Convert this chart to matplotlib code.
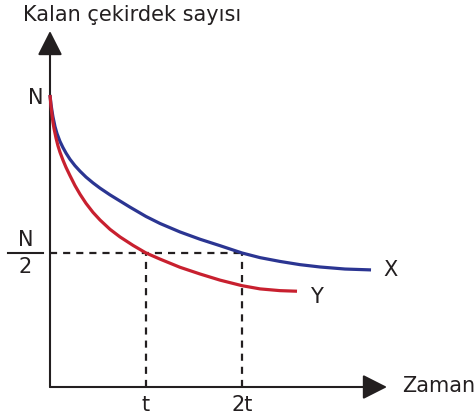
import matplotlib
matplotlib.use("Agg")
import matplotlib.pyplot as plt
from matplotlib.patches import FancyArrowPatch

plt.rcParams['font.family'] = ['DejaVu Sans']

# Data (x in units of t, y in percent of N at the start)
x_X = [0, 0.010, 0.021, 0.031, 0.042, 0.052, 0.073, 0.104, 0.135, 0.167, 0.208, 0.260, 0.313,
       0.375, 0.448, 0.521, 0.625, 0.729, 0.833, 1.0, 1.146, 1.354, 1.563, 1.771, 2.0, 2.188,
       2.396, 2.604, 2.813, 3.073, 3.344]
y_X = [100, 96.9, 94.5, 92.5, 90.8, 89.2, 86.8, 84.1, 82.0, 80.1, 78.0, 75.8, 73.9,
       71.9, 69.9, 68.1, 65.8, 63.7, 61.6, 58.4, 56.0, 53.1, 50.6, 48.4, 45.9, 44.3,
       43.0, 41.9, 41.1, 40.4, 40.1]
x_Y = [0, 0.010, 0.021, 0.031, 0.042, 0.063, 0.083, 0.104, 0.135, 0.167, 0.208, 0.260, 0.313,
       0.375, 0.448, 0.521, 0.625, 0.729, 0.865, 1.0, 1.146, 1.354, 1.563, 1.771, 2.0, 2.188,
       2.396, 2.573]
y_Y = [100, 96.2, 93.2, 90.6, 88.5, 85.2, 82.6, 80.4, 77.7, 75.2, 72.4, 69.0, 66.0,
       62.9, 59.8, 57.2, 54.0, 51.4, 48.5, 45.9, 43.8, 41.0, 38.7, 36.6, 34.7, 33.6,
       33.0, 32.8]
half_value = 45.9
t_ticks = [1.0, 2.0]
t_labels = ["t", "2t"]
series_labels = ["X", "Y"]
y_title = "Kalan çekirdek sayısı"
x_title = "Zaman"

W, H = 477, 418
fig = plt.figure(figsize=(W / 100, H / 100), dpi=100)
ax = fig.add_axes([0, 0, 1, 1])
ax.set_axis_off()

# pixel -> data mapping (origin at pixel (50, 387))
sx, sy = 96.0, 2.92
def px(x, y):
    return (x - 50) / sx, (387 - y) / sy

x0, y0 = px(0, H)
x1, y1 = px(W, 0)
ax.set_xlim(x0, x1)
ax.set_ylim(y0, y1)

blue = "#2B3592"
red = "#C8202F"
ink = "#231F20"
fs = 15

# Axes arrows
ytop = px(50, 31)[1]
xright = px(387, 387)[0]
for start, end in [((0, 0), (0, ytop)), ((0, 0), (xright, 0))]:
    ax.add_patch(FancyArrowPatch(start, end, arrowstyle='-|>,head_length=0.75,head_width=0.38',
                                 mutation_scale=20, color=ink, lw=1.5,
                                 shrinkA=0, shrinkB=0, zorder=3))

# Dashed guide lines
dash = dict(color=ink, lw=1.6, dashes=(3.2, 2.7))
ax.plot([0, t_ticks[1]], [half_value, half_value], **dash)
for tx in t_ticks:
    ax.plot([tx, tx], [0, half_value], **dash)

# Curves
ax.plot(x_X, y_X, color=blue, lw=2.3, solid_capstyle='butt', solid_joinstyle='round', zorder=4)
ax.plot(x_Y, y_Y, color=red, lw=2.3, solid_capstyle='butt', solid_joinstyle='round', zorder=4)

# Series labels
ax.text(px(383, 0)[0], y_X[-1], series_labels[0], fontsize=fs,
        ha='left', va='center', color=ink)
ax.text(px(310, 0)[0], px(0, 297)[1], series_labels[1], fontsize=fs,
        ha='left', va='center', color=ink)

# Tick labels on x axis
for tx, lab in zip(t_ticks, t_labels):
    ax.text(tx, px(0, 405)[1], lab, fontsize=fs, ha='center', va='center', color=ink)

# N label and N/2 fraction
ax.text(px(43, 0)[0], px(0, 98)[1], "N", fontsize=fs, ha='right', va='center', color=ink)
bx0, _ = px(8, 0)
bx1, _ = px(43, 0)
ax.plot([bx0, bx1], [half_value, half_value], color=ink, lw=1.5)
ax.text((bx0 + bx1) / 2, px(0, 240)[1], "N", fontsize=fs, ha='center', va='center', color=ink)
ax.text((bx0 + bx1) / 2, px(0, 267)[1], "2", fontsize=fs, ha='center', va='center', color=ink)

# Axis titles
ax.text(px(23, 0)[0], px(0, 15)[1], y_title, fontsize=fs, ha='left', va='center', color=ink)
ax.text(px(402, 0)[0], px(0, 386)[1], x_title, fontsize=fs, ha='left', va='center', color=ink)

fig.savefig("out.png", dpi=100)
